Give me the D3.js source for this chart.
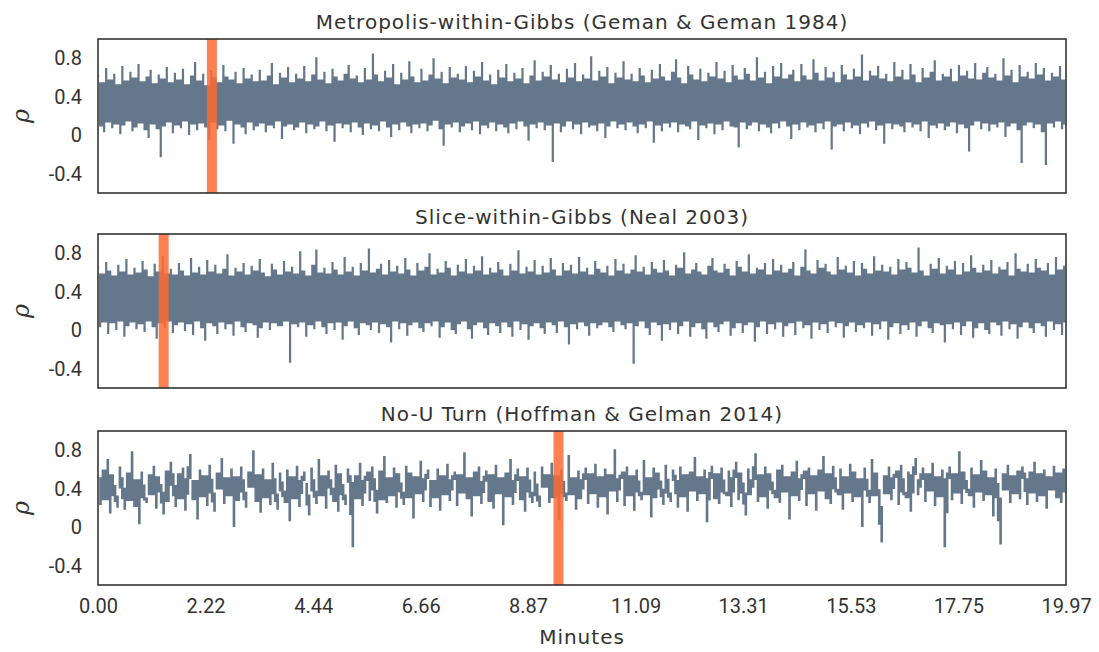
<!DOCTYPE html>
<html><head><meta charset="utf-8">
<script src="https://cdn.jsdelivr.net/npm/d3@7"></script>
<style>
html,body{margin:0;padding:0;background:#fff;}
svg{display:block;}
text{font-family:"DejaVu Sans",sans-serif;fill:#333;}
</style></head>
<body>
<svg id="chart" width="1099" height="652"></svg>
<script>
// ---------------- DATA ----------------
const panelTitles = [
  "Metropolis-within-Gibbs (Geman & Geman 1984)",
  "Slice-within-Gibbs (Neal 2003)",
  "No-U Turn (Hoffman & Gelman 2014)"
];
const minutesMax = 19.97;
const xTickValues = [0.00, 2.22, 4.44, 6.66, 8.87, 11.09, 13.31, 15.53, 17.75, 19.97];
const xTickLabels = ["0.00","2.22","4.44","6.66","8.87","11.09","13.31","15.53","17.75","19.97"];
const yTickValues = [0.8, 0.4, 0, -0.4];
const yTickLabels = ["0.8","0.4","0","-0.4"];
const yDomain = [-0.6, 1.0];
const xLabel = "Minutes";
const yLabel = "ρ";
// marked time (minutes) in each panel
const markerMinutes = [2.35, 1.355, 9.50];

const traceMetropolis = [
.62,.10,.55,.04,.70,.14,.58,.08,.64,.12,.53,.02,.72,.11,.57,.15,.66,.05,.60,.09,
.74,.13,.56,.06,.61,-.02,.68,.12,.54,.07,.63,-.22,.59,.10,.71,.14,.55,.03,.65,.11,
.58,.08,.69,.15,.53,.01,.62,.12,.76,.06,.57,.13,.64,.09,.52,-.04,.67,.14,.60,.07,
.55,.11,.73,.05,.61,.16,.58,-.08,.66,.12,.54,.09,.70,.02,.59,.14,.63,.06,.56,.10,
.68,.13,.57,.04,.62,.11,.75,.08,.53,.15,.65,-.03,.60,.10,.71,.12,.55,.06,.64,.09,
.59,.14,.72,.03,.56,.12,.63,.07,.81,.10,.58,.15,.66,.05,.54,.11,.69,-.06,.61,.13,
.57,.08,.64,.12,.73,.04,.59,.14,.62,.09,.55,.01,.70,.13,.58,.07,.85,.11,.63,.05,
.56,.15,.67,.09,.60,-.01,.74,.12,.53,.06,.65,.14,.58,.10,.77,.03,.61,.12,.55,.08,
.69,.13,.57,.05,.63,.11,.80,.16,.59,.07,.66,-.10,.54,.12,.71,.09,.60,.14,.64,.04,
.58,.10,.72,.13,.55,.06,.67,.15,.61,.02,.76,.11,.57,.08,.63,.14,.53,.05,.68,.12,
.60,.09,.74,.03,.56,.13,.65,.07,.59,.15,.70,.10,.54,-.05,.62,.12,.78,.08,.57,.14,
.66,.06,.61,.11,.73,-.27,.58,.13,.64,.04,.55,.10,.69,.15,.60,.07,.75,.12,.56,.02,
.63,.14,.59,.09,.82,.11,.57,.05,.67,.13,.61,-.02,.71,.10,.54,.15,.65,.08,.60,.12,
.77,.06,.58,.14,.64,.10,.56,.03,.70,.12,.62,.08,.55,.15,.68,-.07,.59,.11,.74,.05,
.61,.13,.57,.09,.66,.14,.79,.04,.60,.12,.54,.10,.72,.07,.63,.15,.58,-.04,.69,.11,
.56,.08,.65,.13,.61,.02,.76,.12,.59,.06,.67,.15,.55,.10,.73,.09,.62,-.12,.58,.14,
.70,.07,.64,.11,.57,.14,.81,.05,.60,.12,.66,.09,.54,.03,.72,.13,.61,.08,.75,.15,
.59,.10,.63,-.03,.68,.12,.56,.06,.74,.14,.62,.09,.58,.11,.79,.04,.65,.13,.57,.07,
.71,.15,.60,-.14,.66,.10,.55,.12,.73,.05,.63,.14,.58,.08,.69,.11,.61,.02,.84,.13,
.57,.09,.67,.15,.62,.06,.72,.11,.59,-.08,.64,.13,.56,.07,.76,.12,.61,.10,.68,.04,
.58,.14,.74,.09,.63,.12,.55,.05,.70,.15,.60,-.02,.66,.11,.78,.08,.57,.13,.64,.06,
.61,.10,.69,.14,.56,.03,.73,.12,.62,.08,.67,-.16,.59,.11,.75,.15,.58,.07,.65,.13,
.71,.05,.60,.12,.64,.09,.57,.14,.80,-.01,.62,.10,.68,.13,.55,.06,.73,-.28,.61,.11,
.66,.14,.59,.08,.75,.12,.63,.04,.70,-.30,.57,.13,.65,.09,.61,.15,.72,.07,.58,.12
];

const traceSlice = [
.66,.04,.59,.09,.71,-.03,.62,.08,.57,.01,.68,.10,.61,-.06,.74,.05,.58,.09,.65,.02,
.60,.07,.72,-.01,.63,.10,.56,.04,.69,-.08,.61,.08,.77,.03,.59,.10,.64,-.02,.58,.06,
.70,.09,.62,.00,.57,.07,.75,-.04,.60,.10,.66,.03,.58,-.10,.73,.08,.61,.05,.68,-.03,
.59,.09,.64,.02,.79,.07,.57,-.05,.65,.10,.61,.04,.70,-.01,.58,.08,.67,.06,.62,-.07,
.74,.03,.60,.09,.56,.01,.69,.08,.63,.05,.58,.05,.72,.10,.61,-.33,.66,.07,.59,.04,
.82,.09,.62,-.06,.57,.06,.68,.02,.84,.10,.60,.04,.65,-.03,.59,.08,.71,.01,.63,.09,
.58,-.09,.76,.05,.61,.10,.66,.03,.57,-.04,.70,.08,.62,.06,.85,.01,.60,.09,.64,-.02,
.69,.07,.58,.04,.73,-.12,.61,.10,.67,.02,.59,.08,.75,-.05,.63,.06,.57,.09,.70,.03,
.62,-.01,.66,.08,.80,.05,.58,.10,.64,-.07,.60,.04,.72,.09,.65,.01,.57,-.03,.68,.07,
.61,.10,.74,.02,.59,-.08,.67,.06,.62,.09,.77,.03,.58,-.04,.65,.08,.60,.05,.71,-.02,
.63,.09,.57,.04,.69,-.06,.62,.10,.83,.01,.59,.07,.66,-.09,.61,.05,.73,.08,.58,.03,
.67,-.03,.60,.09,.75,.06,.63,-.02,.57,.10,.70,.04,.62,-.14,.68,.07,.59,.02,.76,.09,
.61,.05,.65,-.05,.58,.08,.72,.03,.64,.06,.60,.09,.67,.04,.57,-.01,.74,.10,.62,.06,
.69,.02,.59,.08,.63,-.34,.78,.05,.61,.10,.66,.03,.58,-.04,.71,.09,.64,.06,.60,-.10,
.73,.07,.62,.01,.57,.09,.68,-.03,.65,.05,.81,.10,.59,-.06,.63,.04,.70,.08,.61,.02,
.58,-.08,.67,.09,.75,.04,.62,-.01,.60,.07,.69,.10,.64,-.05,.57,.03,.72,.08,.66,-.02,
.61,.06,.79,.09,.59,-.11,.65,.04,.63,.10,.70,-.03,.58,.07,.74,.02,.62,.09,.68,-.06,
.60,.05,.64,.08,.71,-.04,.57,.10,.66,.03,.84,.06,.62,-.08,.59,.09,.73,.01,.65,.07,
.69,-.02,.61,.10,.58,.04,.76,.08,.63,-.07,.67,.05,.60,.09,.72,-.01,.57,.06,.70,.03,
.64,.09,.59,-.05,.77,.07,.62,.02,.68,.10,.61,-.09,.66,.04,.58,.08,.74,-.03,.63,.06,
.71,.01,.65,.09,.60,-.06,.86,.05,.62,.10,.57,.03,.69,-.02,.64,.08,.75,.06,.59,-.12,
.67,.07,.63,.02,.72,.09,.58,-.04,.70,.05,.61,.10,.78,-.07,.65,.03,.60,.08,.68,.01,
.62,-.03,.73,.09,.59,.06,.66,-.05,.63,.10,.71,.02,.57,.07,.80,-.08,.64,.04,.61,.09,
.69,.03,.60,-.02,.74,.08,.65,.05,.62,-.06,.70,.10,.58,.01,.76,.07,.63,-.04,.67,.09
];

const traceNUTS = [
.52,.24,.60,.29,.71,.15,.55,.33,.21,.63,.41,.19,.57,.28,.79,.22,.50,.04,.58,.31,
.26,.55,.34,.64,.20,.53,.37,.14,.59,.27,.68,.44,.22,.56,.30,.62,.18,.51,.76,.29,
.49,.09,.60,.32,.54,.23,.65,.36,.17,.57,.40,.72,.25,.52,.33,.61,.01,.53,.28,.63,
.37,.21,.58,.42,.80,.27,.55,.16,.61,.31,.50,.24,.67,.35,.19,.57,.38,.26,.60,.07,
.53,.30,.64,.22,.49,.58,.34,.13,.62,.38,.25,.71,.33,.54,.20,.59,.41,.27,.65,.17,
.56,.34,.24,.61,.47,-.20,.54,.30,.67,.23,.49,.58,.28,.63,.39,.15,.59,.29,.74,.26,
.52,.33,.62,.21,.56,.37,.24,.64,.31,.57,.10,.53,.35,.69,.27,.51,.60,.22,.49,.31,
.61,.18,.54,.34,.66,.28,.50,.58,.23,.55,.36,.78,.30,.52,.12,.58,.33,.63,.25,.48,
.59,.27,.55,.20,.65,.35,.52,.03,.57,.32,.71,.24,.49,.61,.29,.53,.17,.62,.37,.26,
.58,.33,.22,.63,.42,.55,.26,.67,.31,.54,.08,.60,.36,.28,.75,.34,.52,.19,.59,.30,
.50,.62,.25,.56,.35,.66,.21,.53,.32,.61,.14,.55,.38,.81,.27,.51,.58,.23,.63,.33,
.54,.18,.60,.37,.29,.70,.34,.52,.11,.62,.31,.57,.40,.24,.65,.36,.27,.60,.49,.21,
.63,.32,.55,.17,.58,.38,.73,.28,.53,.35,.60,.06,.51,.64,.30,.56,.25,.62,.37,.33,
.59,.22,.52,.68,.29,.57,.36,.13,.61,.34,.50,.77,.27,.55,.32,.63,.20,.56,.39,.31,
.60,.26,.65,.37,.53,.09,.58,.33,.69,.28,.51,.59,.23,.62,.35,.54,.18,.60,.38,.74,
.30,.56,.25,.64,.40,.34,.61,.19,.53,.36,.66,.27,.58,.32,.51,.01,.62,.39,.26,.71,
.33,.57,.22,-.15,.54,.35,.63,.29,.52,.59,.24,.65,.37,.31,.58,.17,.55,.72,.34,.50,
.62,.27,.56,.38,.67,.23,.53,.32,.60,-.20,.51,.63,.29,.56,.36,.79,.25,.58,.40,.33,
.62,.21,.55,.37,.70,.28,.59,.34,.52,.12,.61,.31,-.17,.56,.39,.65,.26,.54,.35,.59,
.30,.63,.51,.24,.58,.36,.68,.27,.56,.33,.60,.20,.53,.39,.64,.31,.57,.26,.61,.37
];
const traces = [traceMetropolis, traceSlice, traceNUTS];

// ---------------- LAYOUT / STYLE ----------------
const left = 98, right = 1066;
const panelTops = [39, 234, 431];
const panelH = 154;
const traceColor = "#64778b";
const markColor = "#fd6a34";
const tickFont = "Roboto, sans-serif";

const svg = d3.select("#chart");
const x = d3.scaleLinear().domain([0, minutesMax]).range([left, right]);

// vertical extent that sample i's pixel column covers when the dense trace is drawn
function columnExtent(vals, i) {
  const v = vals[i];
  const prev = i > 0 ? vals[i - 1] : v;
  const next = i < vals.length - 1 ? vals[i + 1] : v;
  if (v >= prev && v >= next) return [Math.max(prev, next), v];      // local peak
  if (v <= prev && v <= next) return [v, Math.min(prev, next)];      // local trough
  const a = (prev + v) / 2, b = (v + next) / 2;                        // passing through
  return [Math.min(a, b), Math.max(a, b)];
}

traces.forEach((vals, p) => {
  const top = panelTops[p];
  const y = d3.scaleLinear().domain(yDomain).range([top + panelH, top]);
  const g = svg.append("g");
  const n = vals.length;
  const t = d3.scaleLinear().domain([0, n - 1]).range([0, minutesMax]);
  const step = x(t(1)) - x(t(0));

  const clipId = "clip" + p;
  svg.append("clipPath").attr("id", clipId)
    .append("rect").attr("x", left).attr("y", top).attr("width", right - left).attr("height", panelH);

  // the whole trace as one filled path (no seams between columns)
  const path = d3.path();
  vals.forEach((v, i) => {
    const [lo, hi] = columnExtent(vals, i);
    path.rect(x(t(i)) - step / 2, y(hi), step + 0.2, y(lo) - y(hi) + 0.8);
  });
  g.append("path")
    .attr("clip-path", `url(#${clipId})`)
    .attr("d", path.toString())
    .attr("fill", traceColor)
    .attr("fill-rule", "nonzero");

  // marker band
  g.append("rect")
    .attr("x", x(markerMinutes[p]) - 5)
    .attr("y", top)
    .attr("width", 10)
    .attr("height", panelH)
    .attr("fill", markColor)
    .attr("fill-opacity", 0.85);

  // frame
  g.append("rect").attr("x", left).attr("y", top).attr("width", right - left).attr("height", panelH)
    .attr("fill", "none").attr("stroke", "#333").attr("stroke-width", 1.6);

  // y axis
  const ya = d3.axisLeft(y).tickValues(yTickValues).tickSize(0).tickPadding(16)
    .tickFormat((d, i) => yTickLabels[i]);
  const yg = g.append("g").attr("transform", `translate(${left},0)`).call(ya);
  yg.select(".domain").remove();
  yg.selectAll("text").style("font-family", tickFont).style("font-size", "20px").attr("fill", "#333");

  // y label
  g.append("text")
    .attr("transform", `translate(29,${top + panelH / 2}) rotate(-90)`)
    .attr("text-anchor", "middle")
    .style("font-family", "'DejaVu Serif', serif")
    .style("font-style", "italic")
    .style("font-size", "24px")
    .text(yLabel);

  // title
  g.append("text")
    .attr("x", (left + right) / 2).attr("y", top - 10)
    .attr("text-anchor", "middle")
    .style("font-size", "20px")
    .style("letter-spacing", "1px")
    .text(panelTitles[p]);

  if (p === 2) {
    const xa = d3.axisBottom(x).tickValues(xTickValues).tickSize(0).tickPadding(14)
      .tickFormat((d, i) => xTickLabels[i]);
    const xg = g.append("g").attr("transform", `translate(0,${top + panelH})`).call(xa);
    xg.select(".domain").remove();
    xg.selectAll("text").style("font-family", tickFont).style("font-size", "20px").attr("fill", "#333");
    g.append("text").attr("x", (left + right) / 2).attr("y", 644)
      .attr("text-anchor", "middle").style("font-size", "20px")
      .style("letter-spacing", "1px").text(xLabel);
  }
});
</script>
</body></html>
